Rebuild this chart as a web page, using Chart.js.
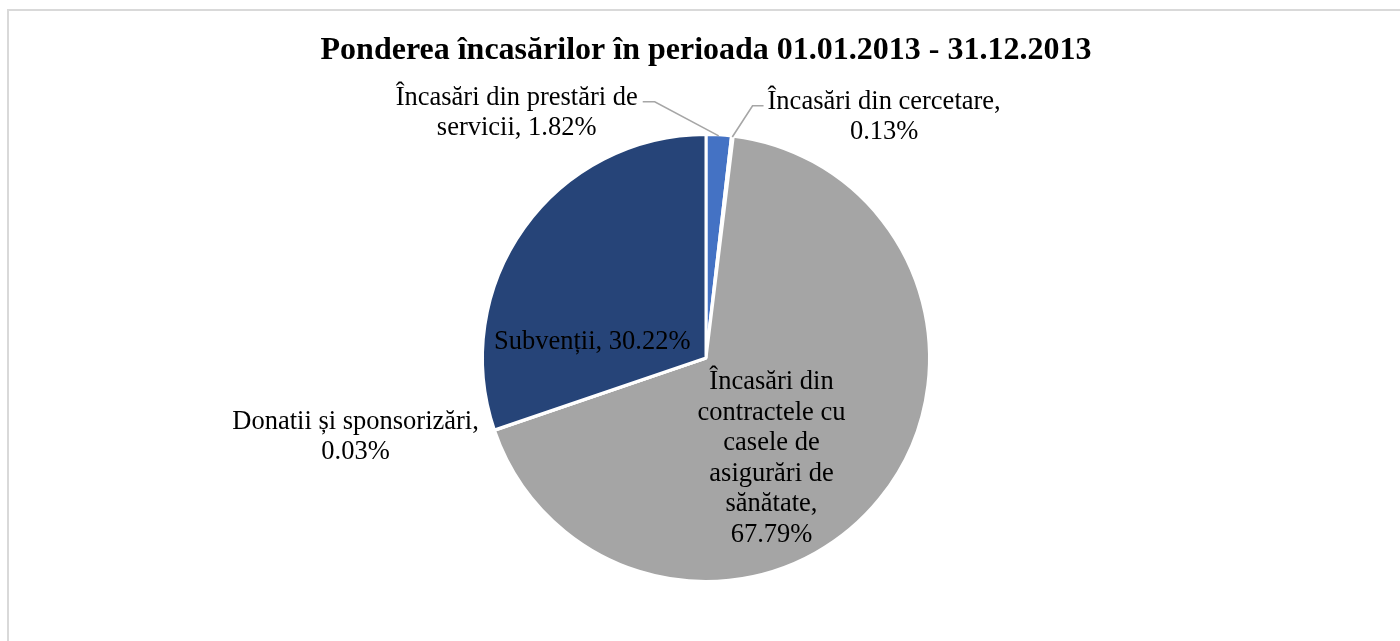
<!DOCTYPE html>
<html>
<head>
<meta charset="utf-8">
<script src="https://cdn.jsdelivr.net/npm/chart.js@4.4.0/dist/chart.umd.min.js"></script>
<style>
  html, body { margin: 0; padding: 0; background: #ffffff; }
  #wrap { position: relative; width: 1400px; height: 641px; overflow: hidden; }
  #frame { position: absolute; left: 7px; top: 9px; width: 1500px; height: 800px; border: 2px solid #d9d9d9; }
  #chart { position: absolute; left: 0; top: 0; }
</style>
</head>
<body>
<div id="wrap">
  <div id="frame"></div>
  <canvas id="chart" width="1400" height="641"></canvas>
</div>
<script>
// Chart data
const categories = [
    'Încasări din prestări de servicii',
    'Încasări din cercetare',
    'Încasări din contractele cu casele de asigurări de sănătate',
    'Donatii și sponsorizări',
    'Subvenții'
];
const shares = [1.82, 0.13, 67.79, 0.03, 30.22];
const sliceColors = ['#4472C4', '#ED7D31', '#A5A5A5', '#FFC000', '#264478'];
const chartTitle = 'Ponderea încasărilor în perioada 01.01.2013 - 31.12.2013';

// Label placement (relative to pie centre, in radius units) and wrap width
const labelPlacement = [
    { dx: -0.847, dy: -1.133, wrap: 255, leader: 'right' },
    { dx: 0.797, dy: -1.115, wrap: 245, leader: 'left' },
    { dx: 0.293, dy: 0.140, wrap: 155 },
    { dx: -1.568, dy: 0.316, wrap: 265 },
    { dx: -0.509, dy: -0.041, wrap: 260 }
];

const LABEL_FONT = '26.5px "Liberation Serif"';
const LINE_H = 30.5;

// Simple word wrap by measured width
function wrapText(ctx, text, maxWidth) {
    const words = text.split(' ');
    const lines = [];
    let cur = '';
    words.forEach(w => {
        const test = cur ? cur + ' ' + w : w;
        if (cur && ctx.measureText(test).width > maxWidth) {
            lines.push(cur);
            cur = w;
        } else {
            cur = test;
        }
    });
    if (cur) lines.push(cur);
    return lines;
}

// Draws the data labels and leader lines
const pieLabels = {
    id: 'pieLabels',
    afterDatasetsDraw(chart) {
        const ctx = chart.ctx;
        const meta = chart.getDatasetMeta(0);
        ctx.save();
        ctx.font = LABEL_FONT;
        ctx.fillStyle = '#000000';
        ctx.textAlign = 'center';
        ctx.textBaseline = 'alphabetic';

        meta.data.forEach((arc, i) => {
            const p = labelPlacement[i];
            const r = arc.outerRadius;
            const ax = arc.x + p.dx * r;
            const ay = arc.y + p.dy * r;
            const text = categories[i] + ', ' + shares[i].toFixed(2) + '%';
            const lines = wrapText(ctx, text, p.wrap);

            lines.forEach((line, k) => {
                ctx.fillText(line, ax, ay + k * LINE_H);
            });

            if (p.leader) {
                const w = ctx.measureText(lines[0]).width;
                const mid = (arc.startAngle + arc.endAngle) / 2;
                const rx = arc.x + Math.cos(mid) * (r - 1);
                const ry = arc.y + Math.sin(mid) * (r - 1);
                const ly = ay - 3;
                let x1, x2;
                if (p.leader === 'right') {
                    x1 = ax + w / 2 + 5;
                    x2 = x1 + 12;
                } else {
                    x1 = ax - w / 2 - 4;
                    x2 = x1 - 11;
                }
                ctx.beginPath();
                ctx.strokeStyle = '#A6A6A6';
                ctx.lineWidth = 1.6;
                ctx.moveTo(x1, ly);
                ctx.lineTo(x2, ly);
                ctx.lineTo(rx, ry);
                ctx.stroke();
            }
        });
        ctx.restore();
    }
};

const ctx = document.getElementById('chart').getContext('2d');
new Chart(ctx, {
    type: 'pie',
    data: {
        labels: categories,
        datasets: [{
            data: shares,
            backgroundColor: sliceColors,
            borderColor: '#ffffff',
            borderWidth: 3
        }]
    },
    options: {
        responsive: false,
        animation: false,
        devicePixelRatio: 1,
        layout: {
            padding: { top: 12, bottom: 58, left: 12, right: 0 }
        },
        plugins: {
            legend: { display: false },
            tooltip: { enabled: false },
            title: {
                display: true,
                text: chartTitle,
                color: '#000000',
                font: { family: 'Liberation Serif', size: 32, weight: 'bold', lineHeight: 1.2 },
                padding: { top: 20, bottom: 62.6 }
            }
        }
    },
    plugins: [pieLabels]
});
</script>
</body>
</html>
